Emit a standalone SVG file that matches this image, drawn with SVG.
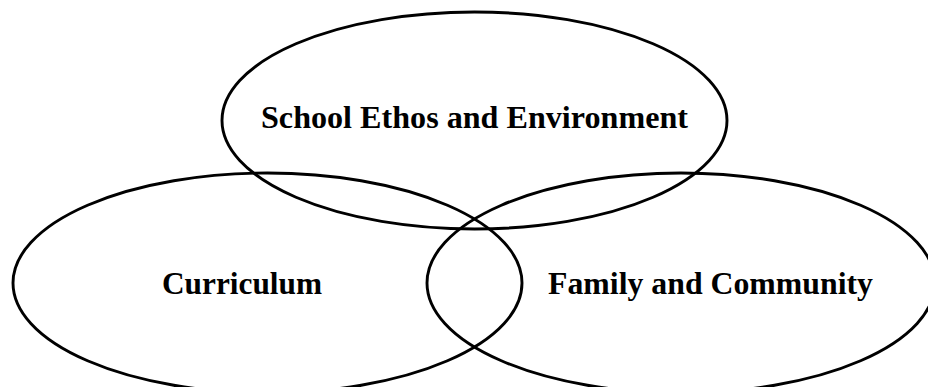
<svg xmlns="http://www.w3.org/2000/svg" width="928" height="387" viewBox="0 0 928 387">
  <style>
    .ring { fill: none; stroke: #000; stroke-width: 2.9; }
    .label { font-family: "Liberation Serif", "Times New Roman", serif; font-weight: bold; font-size: 31.5px; fill: #000; text-anchor: middle; }
  </style>
  <rect x="0" y="0" width="928" height="387" fill="#fff"/>
  <g id="school-ethos">
    <ellipse class="ring" cx="474.5" cy="120.5" rx="252.5" ry="108.5"/>
    <text class="label" x="474.5" y="128" textLength="427" lengthAdjust="spacingAndGlyphs">School Ethos and Environment</text>
  </g>
  <g id="curriculum">
    <ellipse class="ring" cx="267.5" cy="283" rx="254.5" ry="110"/>
    <text class="label" x="242" y="294" textLength="160" lengthAdjust="spacingAndGlyphs">Curriculum</text>
  </g>
  <g id="family-community">
    <ellipse class="ring" cx="681" cy="283" rx="254" ry="110"/>
    <text class="label" x="710.5" y="294" textLength="325" lengthAdjust="spacingAndGlyphs">Family and Community</text>
  </g>
  <g id="connectors"/>
</svg>
